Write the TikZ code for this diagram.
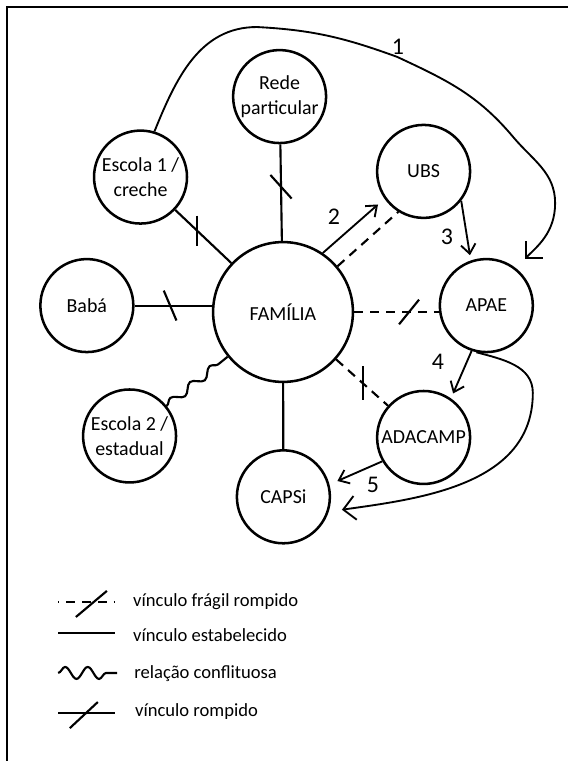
\documentclass[tikz,border=0pt]{standalone}
\usepackage{fontspec}
\setmainfont{Carlito}
\usetikzlibrary{arrows.meta,decorations.pathmorphing}

\tikzset{
  ator/.style={draw,circle,line width=1.9pt,fill=white,minimum size=2.46cm,inner sep=0pt,align=center,font=\fontsize{15}{18.75}\selectfont},
  familia/.style={ator,minimum size=3.70cm},
  link/.style={line width=1.6pt},
  fragil/.style={link,dash pattern=on 7pt off 5pt},
  conflito/.style={link,decorate,decoration={snake,segment length=19pt,amplitude=3pt}},
  seta/.style={line width=1.4pt,-{Straight Barb[length=7pt,width=11pt]},shorten >=4pt},
  caminho/.style={line width=1.4pt,-{Straight Barb[length=9pt,width=18pt]},shorten >=10pt},
  numero/.style={font=\fontsize{18}{22}\selectfont},
  legenda/.style={anchor=base west,inner sep=0pt,font=\fontsize{14}{17}\selectfont},
}

\begin{document}
\begin{tikzpicture}
        \useasboundingbox (-7.488,-11.880) rectangle (7.540,8.255);
        %% frame
        \draw[line width=1.7pt] (-7.302,-11.880) -- (-7.302,8.070) -- (7.540,8.070);
        %% Circles
        \node[familia] (fam) at (0,0) {FAMÍLIA};
        \node[ator] (rede) at (-0.09,5.70) {Rede\\particular};
        \node[ator] (esc1) at (-3.77,3.57) {Escola 1 /\\creche};
        \node[ator] (ubs) at (3.72,3.72) {UBS};
        \node[ator] (baba) at (-5.19,0.17) {Babá};
        \node[ator] (apae) at (5.38,0.17) {APAE};
        \node[ator] (esc2) at (-4.06,-3.28) {Escola 2 /\\estadual};
        \node[ator] (ada) at (3.72,-3.32) {ADACAMP};
        \node[ator] (capsi) at (0.01,-4.89) {CAPSi};
        %% Links
        \draw[link] (esc1) -- (fam) coordinate[pos=0.39] (t1);
        \draw[link] (rede) -- (fam) coordinate[pos=0.44] (t2);
        \draw[link] (baba.east) -- (baba.east -| fam.west) coordinate[pos=0.46] (t3);
        \draw[link] (fam) -- (capsi);
        \draw[conflito] (esc2) -- (fam);
        \draw[fragil] (fam.east) -- (fam.east -| apae.west) coordinate[pos=0.65] (t4);
        \draw[fragil] (fam) -- (ada) coordinate[pos=0.52] (t5);
        \draw[fragil] (fam.40) -- (ubs.238);
        %% Ticks
        \draw[link] (t1) ++(90:0.40) -- ++(270:0.80);
        \draw[link] (t2) ++(132:0.42) -- ++(-48:0.84);
        \draw[link] (t3) ++(113:0.43) -- ++(-67:0.86);
        \draw[link] (t4) ++(231:0.42) -- ++(51:0.84);
        \draw[link] (t5) ++(90:0.45) -- ++(270:0.90);
        %% Arrows
        \draw[seta,shorten >=6.5pt] (fam.56) -- (ubs.215);
        \draw[seta] (ubs.-38) -- (apae.109);
        \draw[seta] (apae.252) -- (ada.55);
        \draw[seta,shorten >=6.5pt] (ada.210) -- (capsi.15);
        \draw[caminho] (esc1.73) to[out=68,in=180] (-0.69,7.54) to[out=-3,in=160] (3.02,6.75)
            to[out=-25,in=130] (6.09,4.63) to[out=-50,in=90] (7.20,2.88) to[out=-90,in=45] (apae.52);
        \draw[caminho] (apae.258) to[out=-15,in=90] (6.61,-2.14) to[out=-90,in=8] (capsi.-18);
        %% Numbers
        \node[numero] (n1) at (3.04,7.01) {1};
        \node[numero] (n2) at (1.35,2.51) {2};
        \node[numero] (n3) at (4.34,1.98) {3};
        \node[numero] (n4) at (4.10,-1.32) {4};
        \node[numero] (n5) at (2.38,-4.58) {5};
        %% Legend
        \draw[fragil,dash phase=6pt] (-5.95,-7.67) -- ++(0:1.51);
        \draw[link] (-5.48,-8.07) -- (-4.66,-7.38);
        \draw[link] (-5.95,-8.49) -- ++(0:1.51);
        \draw[link,decorate,decoration={snake,segment length=17pt,amplitude=4.5pt}] (-5.95,-9.55) -- ++(0:1.56);
        \draw[link] (-5.95,-10.61) -- ++(0:1.51);
        \draw[link] (-5.64,-11.01) -- (-4.90,-10.32);
        \node[legenda] (lg1) at (-3.97,-7.805) {vínculo frágil rompido};
        \node[legenda] (lg2) at (-3.97,-8.731) {vínculo estabelecido};
        \node[legenda] (lg3) at (-3.94,-9.684) {relação conflituosa};
        \node[legenda] (lg4) at (-3.92,-10.715) {vínculo rompido};
\end{tikzpicture}
\end{document}
